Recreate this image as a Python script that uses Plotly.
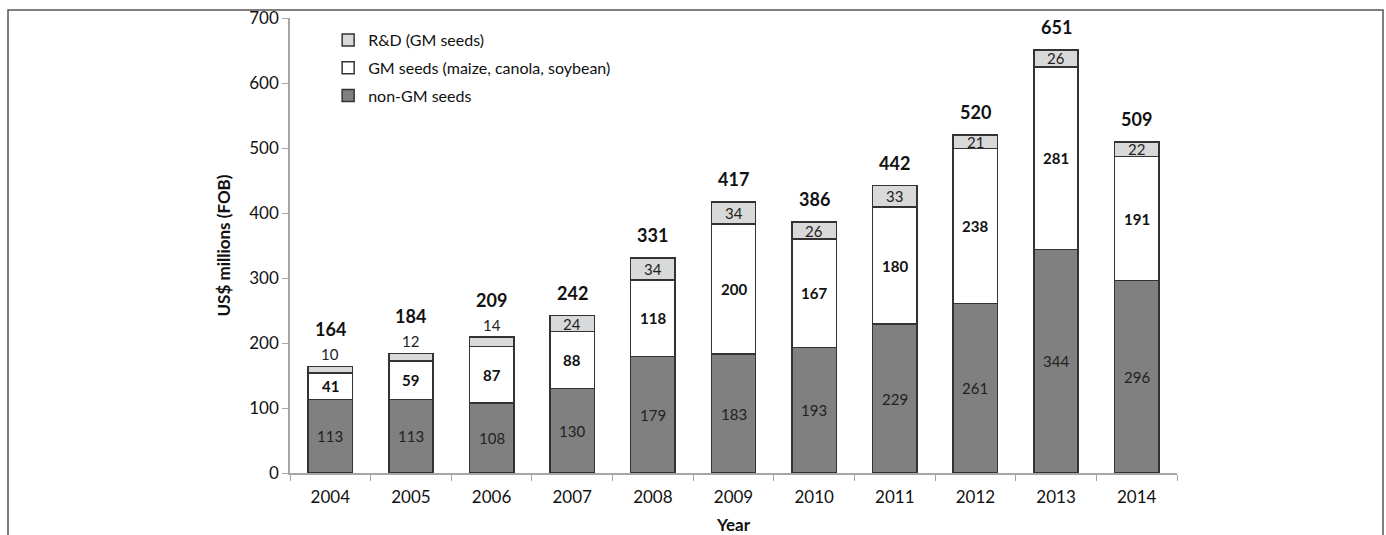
import plotly.graph_objects as go

years = ["2004", "2005", "2006", "2007", "2008", "2009", "2010", "2011", "2012", "2013", "2014"]
non_gm = [113, 113, 108, 130, 179, 183, 193, 229, 261, 344, 296]
gm = [41, 59, 87, 88, 118, 200, 167, 180, 238, 281, 191]
rnd = [10, 12, 14, 24, 34, 34, 26, 33, 21, 26, 22]
totals = [164, 184, 209, 242, 331, 417, 386, 442, 520, 651, 509]

FONT = "Lato, 'Open Sans', sans-serif"
LINE = dict(color="#333333", width=1.5)

fig = go.Figure()
fig.add_trace(go.Bar(x=years, y=non_gm, name="non-GM seeds", legendgroup="a", legendrank=3,
                     marker=dict(color="#808080", line=LINE)))
fig.add_trace(go.Bar(x=years, y=gm, name="GM seeds (maize, canola, soybean)", legendgroup="b",
                     legendrank=2, marker=dict(color="#ffffff", line=LINE)))
fig.add_trace(go.Bar(x=years, y=rnd, name="R&D (GM seeds)", legendgroup="c", legendrank=1,
                     marker=dict(color="#d9d9d9", line=LINE)))

ann = []
for i, yr in enumerate(years):
    a = non_gm[i]
    b = gm[i]
    c = rnd[i]
    ann.append(dict(x=i, y=a / 2, text=str(a), showarrow=False,
                    font=dict(size=15, color="#222", family=FONT)))
    ann.append(dict(x=i, y=a + b / 2, text="<b>%d</b>" % b, showarrow=False,
                    font=dict(size=15, color="#111", family=FONT)))
    small = c < 20
    ann.append(dict(x=i, y=(a + b + c) if small else (a + b + c / 2), text=str(c),
                    showarrow=False, yshift=12 if small else 0,
                    font=dict(size=15, color="#222", family=FONT)))
    ann.append(dict(x=i, y=totals[i], text="<b>%d</b>" % totals[i], showarrow=False,
                    yshift=37 if small else 23,
                    font=dict(size=18, color="#111", family=FONT)))

fig.update_layout(
    barmode="stack",
    bargap=0.45,
    width=1386, height=535,
    margin=dict(l=290, r=209, t=18, b=62),
    paper_bgcolor="white", plot_bgcolor="white",
    font=dict(family=FONT, size=17, color="#111"),
    annotations=ann,
    legend=dict(x=0.043, y=0.989, xanchor="left", yanchor="top", traceorder="grouped",
                tracegroupgap=4,
                font=dict(size=16, family=FONT, color="#111"), bgcolor="rgba(0,0,0,0)",
                itemwidth=30),
    shapes=[dict(type="rect", xref="paper", yref="paper",
                 x0=(8 - 290) / 887, x1=(1383 - 290) / 887, y0=-0.3, y1=(473 - 10) / 455,
                 line=dict(color="#555555", width=1.5), layer="below")],
    xaxis=dict(
        type="category", range=[-0.5, len(years) - 0.5], automargin=False,
        showline=True, linecolor="#a6a6a6", linewidth=1.5,
        ticks="outside", ticklen=6, tickcolor="#a6a6a6", tickson="boundaries",
        ticklabelstandoff=8,
        tickfont=dict(size=17, family=FONT, color="#111"),
        title=dict(text="<b>Year</b>", font=dict(size=17, family=FONT), standoff=20),
        showgrid=False,
    ),
    yaxis=dict(
        range=[0, 700], dtick=100, showline=True, linecolor="#a6a6a6", linewidth=1.5,
        ticks="outside", ticklen=6, tickcolor="#a6a6a6", automargin=False,
        tickfont=dict(size=17, family=FONT, color="#111"),
        title=dict(text="<b>US$ millions (FOB)</b>", font=dict(size=17, family=FONT), standoff=14),
        showgrid=False, zeroline=False,
    ),
)

fig.write_html("out.html")
